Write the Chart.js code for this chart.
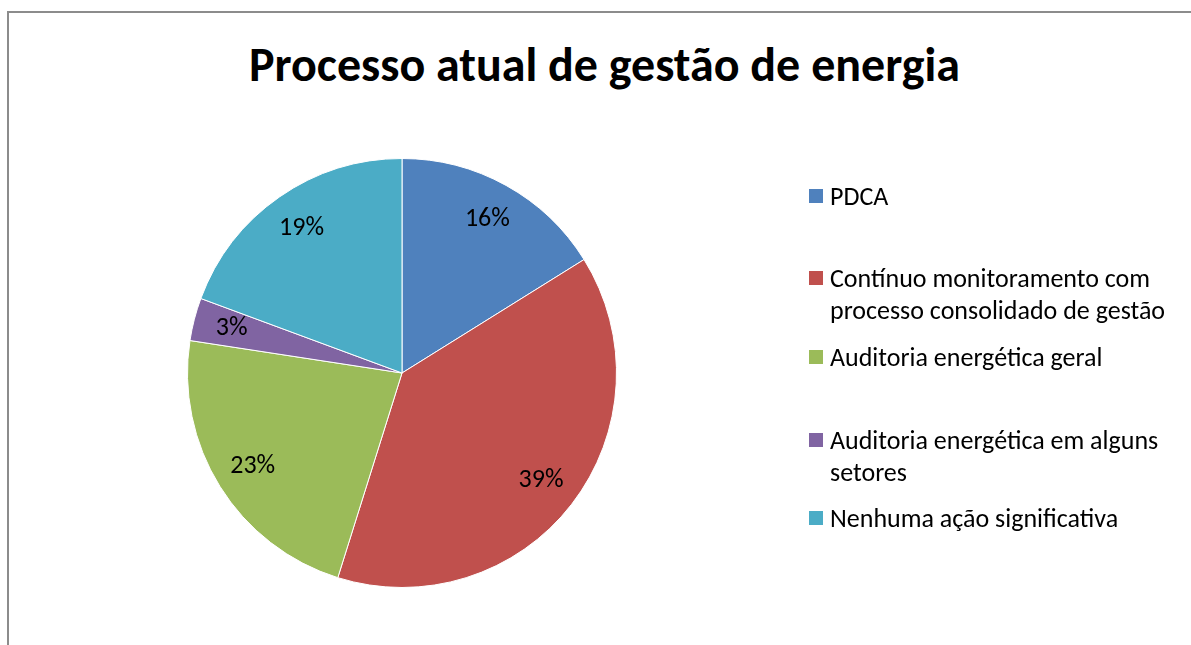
<!DOCTYPE html>
<html>
<head>
<meta charset="utf-8">
<script src="https://cdn.jsdelivr.net/npm/chart.js@4.4.1/dist/chart.umd.min.js"></script>
<style>
  html, body { margin: 0; padding: 0; background: #fff; }
  body { width: 1191px; height: 645px; position: relative; overflow: hidden; font-family: Carlito, Lato, "Open Sans", sans-serif; }
  #frame { position: absolute; left: 7px; top: 11px; width: 1300px; height: 700px; border: 2px solid #8c8c8c; box-sizing: border-box; }
  #title { position: absolute; left: 0; width: 1209px; top: 36px; text-align: center; font-weight: bold; font-size: 48px; line-height: 58px; color: #000; }
  #wrap { position: absolute; left: 0; top: 0; width: 1191px; height: 645px; }
  #legend { position: absolute; left: 809px; top: 0; font-size: 26px; color: #000; }
  .item { position: absolute; left: 0; white-space: nowrap; line-height: 32px; }
  .box { position: absolute; left: 0; top: 9px; width: 14px; height: 14px; }
  .txt { position: absolute; left: 21px; top: 0; }
</style>
</head>
<body>
<div id="frame"></div>
<div id="title">Processo atual de gestão de energia</div>
<div id="wrap"><canvas id="pieChart"></canvas></div>
<div id="legend"></div>
<script>
document.addEventListener("DOMContentLoaded", function () {
    // dados do gráfico (respostas por categoria)
    const categorias = [
        'PDCA',
        'Contínuo monitoramento com processo consolidado de gestão',
        'Auditoria energética geral',
        'Auditoria energética em alguns setores',
        'Nenhuma ação significativa'
    ];
    const legendaLinhas = [
        ['PDCA'],
        ['Contínuo monitoramento com', 'processo consolidado de gestão'],
        ['Auditoria energética geral'],
        ['Auditoria energética em alguns', 'setores'],
        ['Nenhuma ação significativa']
    ];
    const valores = [5, 12, 7, 1, 6];
    const cores = ['#4F81BD', '#C0504D', '#9BBB59', '#8064A2', '#4BACC6'];
    const legendaTopo = [180, 262, 341, 424, 502];

    // rótulos de porcentagem dentro das fatias
    const rotulosPlugin = {
        id: 'rotulos',
        afterDatasetsDraw(chart) {
            const ctx = chart.ctx;
            const meta = chart.getDatasetMeta(0);
            const total = valores.reduce((a, b) => a + b, 0);
            ctx.save();
            ctx.font = '26px Carlito, Lato, "Open Sans", sans-serif';
            ctx.fillStyle = '#000';
            ctx.textAlign = 'center';
            ctx.textBaseline = 'middle';
            meta.data.forEach(function (arc, i) {
                const p = arc.getProps(['x', 'y', 'startAngle', 'endAngle', 'outerRadius'], true);
                const meio = (p.startAngle + p.endAngle) / 2;
                const r = p.outerRadius * 0.82;
                const txt = Math.round(valores[i] / total * 100) + '%';
                ctx.fillText(txt, p.x + Math.cos(meio) * r, p.y + Math.sin(meio) * r);
            });
            ctx.restore();
        }
    };

    const ctxPie = document.getElementById('pieChart');
    new Chart(ctxPie, {
        type: 'pie',
        data: {
            labels: categorias,
            datasets: [{ data: valores, backgroundColor: cores, borderColor: '#ffffff', borderWidth: 1 }]
        },
        options: {
            responsive: true,
            maintainAspectRatio: false,
            animation: false,
            layout: { padding: { left: 187, top: 158, right: 574, bottom: 57 } },
            plugins: { legend: { display: false }, tooltip: { enabled: false }, title: { display: false } }
        },
        plugins: [rotulosPlugin]
    });

    // legenda em HTML (texto em duas linhas como no original)
    const legenda = document.getElementById('legend');
    legendaLinhas.forEach(function (linhas, i) {
        const item = document.createElement('div');
        item.className = 'item';
        item.style.top = legendaTopo[i] + 'px';
        item.innerHTML = '<span class="box" style="background:' + cores[i] + '"></span>' +
            '<span class="txt">' + linhas.join('<br>') + '</span>';
        legenda.appendChild(item);
    });
});
</script>
</body>
</html>
